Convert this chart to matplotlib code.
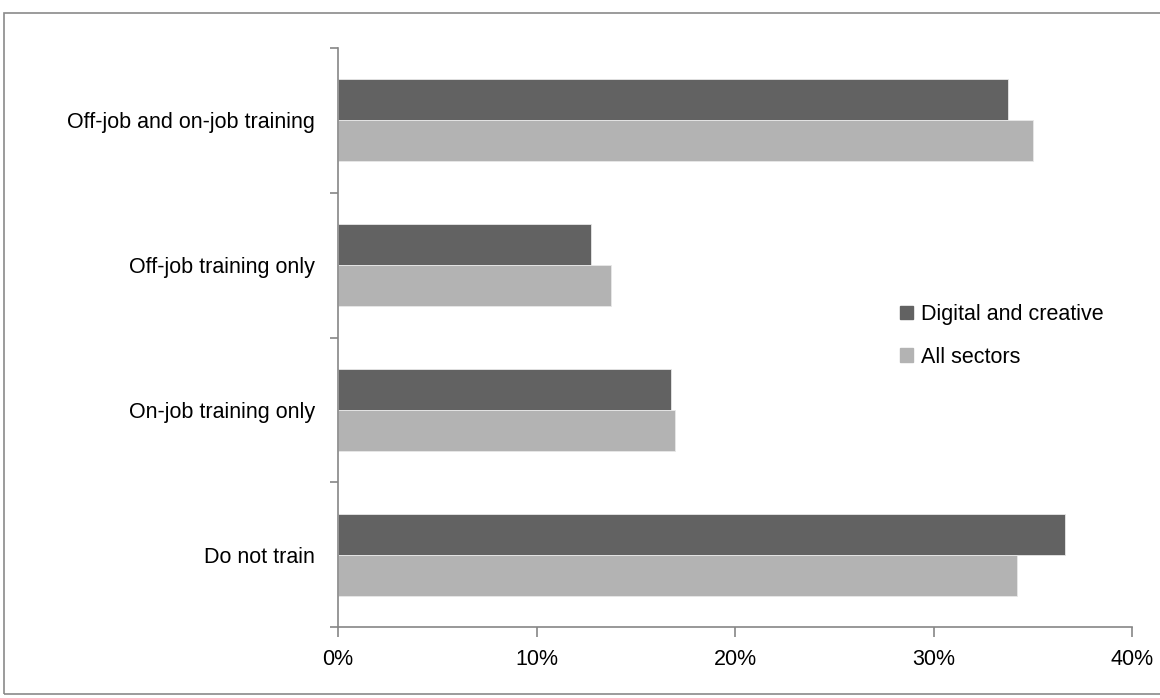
import matplotlib.pyplot as plt
from matplotlib.patches import Rectangle, Patch
from matplotlib.ticker import FuncFormatter, FixedLocator

plt.rcParams['font.family'] = ['Liberation Sans', 'DejaVu Sans']

categories = ['Do not train', 'On-job training only', 'Off-job training only',
              'Off-job and on-job training']
digital = [36.6, 16.8, 12.75, 33.75]
all_sectors = [34.2, 17.0, 13.75, 35.0]
series_names = ['Digital and creative', 'All sectors']
dark = '#626262'
light = '#b3b3b3'
axis_grey = '#868686'
fs = 15.5

fig = plt.figure(figsize=(11.6, 6.98), dpi=100)
ax = fig.add_axes([338 / 1160, 1 - 627 / 698, (1132 - 338) / 1160, (627 - 48) / 698])

pos = list(range(len(categories)))
h = 0.283
ax.barh([p + h / 2 for p in pos], digital, height=h, color=dark, edgecolor='#e8e8e8', linewidth=0.6)
ax.barh([p - h / 2 for p in pos], all_sectors, height=h, color=light, edgecolor='#e8e8e8', linewidth=0.6)

ax.set_xlim(0, 40)
ax.set_ylim(-0.5, len(categories) - 0.5)
ax.set_xticks([0, 10, 20, 30, 40])
ax.xaxis.set_major_formatter(FuncFormatter(lambda v, _: f'{v:.0f}%'))
ax.set_yticks(pos)
ax.set_yticklabels(categories)
ax.yaxis.set_minor_locator(FixedLocator([p + 0.5 for p in range(-1, len(categories))]))

for s in ['top', 'right']:
    ax.spines[s].set_visible(False)
for s in ['left', 'bottom']:
    ax.spines[s].set_color(axis_grey)
    ax.spines[s].set_linewidth(1.2)

ax.tick_params(axis='y', which='major', length=0, pad=16.5, labelsize=fs)
ax.tick_params(axis='y', which='minor', length=6, color=axis_grey, width=1.2)
ax.tick_params(axis='x', length=7, color=axis_grey, width=1.2, labelsize=fs, pad=9)

handles = [Patch(color=dark), Patch(color=light)]
ax.legend(handles, series_names, loc='center left', bbox_to_anchor=(0.684, 0.503),
          frameon=False, fontsize=fs, handlelength=0.6, handleheight=0.6,
          handletextpad=0.35, labelspacing=1.0)

fig.patches.append(Rectangle((4 / 1160, 1 - 694 / 698), 1.2, (694 - 13) / 698,
                             transform=fig.transFigure, fill=False,
                             edgecolor='#8a8a8a', linewidth=1.2))

fig.savefig('out.png', dpi=100)
